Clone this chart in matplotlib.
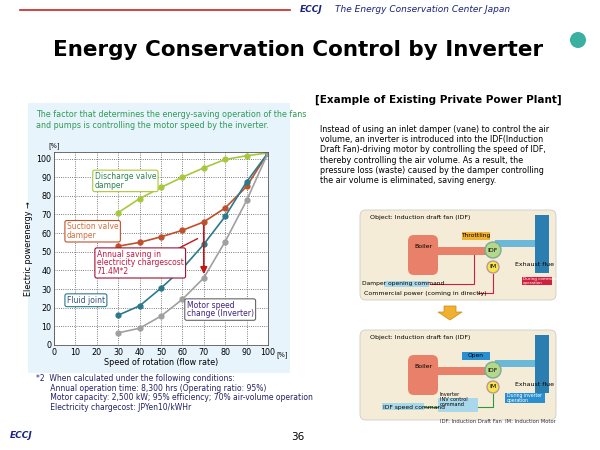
import matplotlib
matplotlib.use("Agg")
import matplotlib.pyplot as plt
from matplotlib.patches import Rectangle, FancyBboxPatch, FancyArrow

speed = [30, 40, 50, 60, 70, 80, 90, 100]
discharge = [71, 78.5, 84.5, 90, 95, 99.5, 101.5, 103]
suction = [53, 55, 58, 61.5, 66, 73.5, 85, 103]
fluid = [16, 21, 30.5, 41, 54, 69, 87.5, 103]
inverter = [6.5, 9, 15.5, 24.5, 36, 55.5, 77.5, 103]
xticks = [0, 10, 20, 30, 40, 50, 60, 70, 80, 90, 100]
yticks = [0, 10, 20, 30, 40, 50, 60, 70, 80, 90, 100]

W, H = 600, 450
fig = plt.figure(figsize=(6, 4.5), dpi=100)
bg = fig.add_axes([0, 0, 1, 1])
bg.set_xlim(0, W); bg.set_ylim(H, 0); bg.axis("off")

def box(x, y, w, h, fc, ec="none", lw=1, r=0, z=1):
    if r:
        bg.add_patch(FancyBboxPatch((x, y), w, h, boxstyle=f"round,pad=0,rounding_size={r}",
                                    fc=fc, ec=ec, lw=lw, zorder=z))
    else:
        bg.add_patch(Rectangle((x, y), w, h, fc=fc, ec=ec, lw=lw, zorder=z))

def txt(x, y, s, size=6, color="black", **kw):
    bg.text(x, y, s, fontsize=size, color=color, **kw)

# header
bg.plot([20, 290], [10, 10], color="#cc2222", lw=1.2)
txt(300, 10, "ECCJ", 6.5, "#1a237e", style="italic", weight="bold", va="center")
txt(335, 10, "The Energy Conservation Center Japan", 6.5, "#1a237e", style="italic", va="center")
txt(298, 50, "Energy Conservation Control by Inverter", 15.5, "black", weight="bold",
    ha="center", va="center")
# left panel
box(28, 103, 262, 270, "#e8f4fb")
txt(36, 120, "The factor that determines the energy-saving operation of the fans\nand pumps is controlling the motor speed by the inverter.",
    5.8, "#2e9a55", va="center", linespacing=1.4)
txt(36, 374, "*2  When calculated under the following conditions:\n      Annual operation time: 8,300 hrs (Operating ratio: 95%)\n"
    "      Motor capacity: 2,500 kW; 95% efficiency; 70% air-volume operation\n      Electricity chargecost: JPYen10/kWHr",
    5.5, "#222266", va="top", linespacing=1.1)
# right text
txt(315, 100, "[Example of Existing Private Power Plant]", 7.5, "black", weight="bold", va="center")
txt(320, 155, "Instead of using an inlet damper (vane) to control the air\nvolume, an inverter is introduced into the IDF(Induction\n"
    "Draft Fan)-driving motor by controlling the speed of IDF,\nthereby controlling the air volume. As a result, the\n"
    "pressure loss (waste) caused by the damper controlling\nthe air volume is eliminated, saving energy.",
    5.8, "black", va="center", linespacing=1.15)
# diagrams
for y0, mode in [(210, 0), (330, 1)]:
    box(360, y0, 196, 90, "#f5ecd7", "#cccccc", 0.6, r=6)
    txt(370, y0 + 9, "Object: Induction draft fan (IDF)", 4.5)
    box(408, y0 + 25, 30, 40, "#e8806a", r=6)
    txt(423, y0 + 37, "Boiler", 4.5, ha="center", va="center")
    box(438, y0 + 37, 60, 8, "#e8806a")
    box(495, y0 + 30, 40, 7, "#6bb8d8")
    box(535, y0 + 5, 14, 58, "#2a7fb0")
    bg.add_patch(plt.Circle((493, y0 + 40), 8, fc="#b5d88a", ec="#7a9", zorder=3))
    txt(493, y0 + 40, "IDF", 4.5, ha="center", va="center", zorder=4)
    bg.add_patch(plt.Circle((493, y0 + 57), 6, fc="#f5e44a", ec="#b99", zorder=3))
    txt(493, y0 + 57, "IM", 4.5, ha="center", va="center", zorder=4)
    txt(515, y0 + 56, "Exhaust flue", 4.5)
    if mode == 0:
        box(462, y0 + 22, 28, 8, "#f0b030")
        txt(476, y0 + 26, "Throttling", 4.3, ha="center", va="center", zorder=3)
        box(522, y0 + 67, 30, 8, "#d02040")
        txt(523, y0 + 71, "During commercial\noperation", 3, "white", va="center", zorder=3)
        box(384, y0 + 71, 45, 6, "#a8d8ea")
        txt(362, y0 + 74, "Damper opening command", 4.3, va="center", zorder=3)
        txt(364, y0 + 83, "Commercial power (coming in directly)", 4.5, va="center")
        bg.plot([430, 474, 474], [y0 + 74, y0 + 74, y0 + 45], color="#d02040", lw=0.8)
        bg.plot([478, 493, 493], [y0 + 83, y0 + 83, y0 + 64], color="#d02040", lw=0.8)
    else:
        box(462, y0 + 22, 28, 8, "#2a8fd0")
        txt(476, y0 + 26, "Open", 4.3, ha="center", va="center", zorder=3)
        box(505, y0 + 63, 40, 10, "#2a8fd0")
        txt(507, y0 + 68, "During inverter\noperation", 3.3, "white", va="center", zorder=3)
        box(382, y0 + 73, 42, 7, "#a8d8ea")
        txt(383, y0 + 77, "IDF speed command", 4.3, va="center", zorder=3)
        box(438, y0 + 68, 40, 14, "#a8d8ea")
        txt(440, y0 + 62, "Inverter\nINV control\ncommand", 3.6, va="top", zorder=3, linespacing=1.0)
        bg.plot([424, 438], [y0 + 77, y0 + 77], color="#2a9a40", lw=0.8)
        bg.plot([478, 493, 493], [y0 + 77, y0 + 77, y0 + 64], color="#2a9a40", lw=0.8)
bg.add_patch(FancyArrow(450, 306, 0, 14, width=12, head_width=24, head_length=8,
                        fc="#f0b030", ec="#c88a10", lw=0.5, length_includes_head=True))
txt(440, 423, "IDF: Induction Draft Fan  IM: Induction Motor", 3.8, "#333333")
txt(298, 437, "36", 7.5, ha="center", va="center")
txt(10, 436, "ECCJ", 6.5, "#1a237e", style="italic", weight="bold", va="center")
bg.add_patch(plt.Circle((578, 40), 8, fc="#3ab0a0", ec="none"))

# chart
ax = fig.add_axes([54 / W, 1 - 345 / H, 214 / W, 193 / H])
ax.set_facecolor("white")
ax.plot(speed, discharge, "-o", color="#a8c83c", ms=3.5, lw=1.2)
ax.plot(speed, suction, "-o", color="#c0502a", ms=3.5, lw=1.2)
ax.plot(speed, fluid, "-o", color="#2a7a8c", ms=3.5, lw=1.2)
ax.plot(speed, inverter, "-o", color="#a0a0a0", ms=3.5, lw=1.2)
ax.set_xlim(0, 100); ax.set_ylim(0, 103.5)
ax.set_xticks(xticks); ax.set_yticks(yticks)
ax.tick_params(labelsize=5.8, length=0, pad=2)
ax.grid(True, color="#555555", ls=":", lw=0.6)
for s in ax.spines.values():
    s.set_color("#555555"); s.set_linewidth(0.6)
ax.annotate("", xy=(70, 36.5), xytext=(70, 65.5),
            arrowprops=dict(arrowstyle="-|>", color="#c01818", lw=1.2))
ax.plot([50, 67], [47, 57], color="#c01818", lw=1)
def lab(x, y, s, c, ec):
    ax.text(x, y, s, fontsize=5.5, color=c, va="center", linespacing=0.95,
            bbox=dict(boxstyle="round,pad=0.25", fc="white", ec=ec, lw=0.8))
lab(19, 88, "Discharge valve\ndamper", "#2a8050", "#a8c83c")
lab(6, 61, "Suction valve\ndamper", "#d07040", "#c0502a")
lab(20, 44, "Annual saving in\nelectricity chargescost\n71.4M*2", "#c01840", "#a01030")
lab(6, 24, "Fluid joint", "#2a5080", "#2a7a8c")
lab(62, 19, "Motor speed\nchange (Inverter)", "#402080", "#666666")
ax.text(0, 105, "[%]", fontsize=4.8, ha="center", va="bottom")
ax.text(104, -3.5, "[%]", fontsize=4.8, va="top")
ax.set_xlabel("Speed of rotation (flow rate)", fontsize=5.8, labelpad=1)
ax.set_ylabel("Electric powerenergy \u2192", fontsize=5.8, labelpad=2)

fig.savefig("out.png", dpi=100)
